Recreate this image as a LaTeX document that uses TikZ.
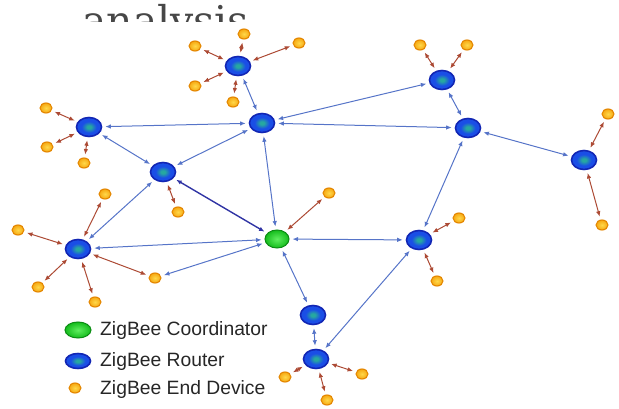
\documentclass[tikz,border=0pt]{standalone}
\usepackage{fontspec}
\setmainfont{Liberation Sans}
\newfontfamily\headfont{DejaVu Serif}
\usetikzlibrary{shapes.geometric,arrows.meta}

\definecolor{linkblue}{HTML}{5674C8}
\definecolor{linknavy}{HTML}{3034A4}
\definecolor{linkred}{HTML}{AC4A34}
\definecolor{rtedge}{HTML}{1226B4}
\definecolor{rtouter}{HTML}{1A4EE6}
\definecolor{rtinner}{HTML}{26A8A0}
\definecolor{coedge}{HTML}{0C8C14}
\definecolor{coouter}{HTML}{14BC1C}
\definecolor{coinner}{HTML}{60EE60}
\definecolor{ededge}{HTML}{E48600}
\definecolor{edouter}{HTML}{F6A812}
\definecolor{edinner}{HTML}{FFD84A}
\definecolor{legendtext}{HTML}{262626}

% blue router disc with a small teal core
\pgfdeclareradialshading{routerball}{\pgfpoint{0bp}{0bp}}{%
  color(0bp)=(rtinner); color(4bp)=(rtinner); color(15bp)=(rtouter);
  color(50bp)=(rtouter)}

\tikzset{
  router/.style={ellipse, minimum width=25pt, minimum height=19pt, inner sep=0pt,
    draw=rtedge, line width=1.6pt, shading=routerball},
  coord/.style={ellipse, minimum width=24pt, minimum height=18pt, inner sep=0pt,
    draw=coedge, line width=1pt, inner color=coinner, outer color=coouter},
  enddev/.style={ellipse, minimum width=12pt, minimum height=10pt, inner sep=0pt,
    draw=ededge, line width=1.1pt, inner color=edinner, outer color=edouter},
  tips/.style={{Latex[length=5.5pt,width=4.5pt]}-{Latex[length=5.5pt,width=4.5pt]},
    shorten <=3pt, shorten >=3pt},
  mesh/.style={tips, draw=linkblue, line width=1pt},
  meshdark/.style={tips, draw=linknavy, line width=1.4pt},
  leaf/.style={tips, draw=linkred, line width=1pt},
  legend/.style={anchor=west, inner sep=0pt, text=legendtext,
    font=\fontsize{19.3}{21}\selectfont}
}

\begin{document}
\begin{tikzpicture}[x=1pt,y=-1pt]
\useasboundingbox (0,0) rectangle (619,409);

% heading word, partly hidden behind the figure
\begin{scope}
  \clip (0,0) rectangle (619,22);
  \node[anchor=base west, inner sep=0pt, text=black!72,
        font=\headfont\fontsize{41}{41}\selectfont] (head) at (82,36) {analysis};
\end{scope}

% coordinator and routers
\node[coord]  (c)   at (277,239) {};
\node[router] (r1)  at (238,66)  {};
\node[router] (r2)  at (89,127)  {};
\node[router] (r3)  at (262,123) {};
\node[router] (r4)  at (163,172) {};
\node[router] (r5)  at (442,80)  {};
\node[router] (r6)  at (468,128) {};
\node[router] (r7)  at (584,160) {};
\node[router] (r8)  at (78,249)  {};
\node[router] (r9)  at (419,240) {};
\node[router] (r10) at (313,315) {};
\node[router] (r11) at (316,359) {};

% end devices
\node[enddev] (e1a) at (244,34)  {};
\node[enddev] (e1b) at (195,46)  {};
\node[enddev] (e1c) at (299,43)  {};
\node[enddev] (e1d) at (195,86)  {};
\node[enddev] (e1e) at (233,102) {};
\node[enddev] (e2a) at (46,108)  {};
\node[enddev] (e2b) at (47,147)  {};
\node[enddev] (e2c) at (84,163)  {};
\node[enddev] (e4a) at (178,212) {};
\node[enddev] (e5a) at (420,45)  {};
\node[enddev] (e5b) at (467,45)  {};
\node[enddev] (e7a) at (608,114) {};
\node[enddev] (e7b) at (602,225) {};
\node[enddev] (eca) at (329,193) {};
\node[enddev] (e8a) at (18,230)  {};
\node[enddev] (e8b) at (105,194) {};
\node[enddev] (e8c) at (38,287)  {};
\node[enddev] (e8d) at (95,302)  {};
\node[enddev] (e8e) at (155,278) {};
\node[enddev] (e9a) at (459,218) {};
\node[enddev] (e9b) at (437,281) {};
\node[enddev] (e11a) at (285,377) {};
\node[enddev] (e11b) at (362,374) {};
\node[enddev] (e11c) at (327,400) {};

% router mesh links
\draw[mesh] (r1) -- (r3);
\draw[mesh] (r2) -- (r3);
\draw[mesh] (r2) -- (r4);
\draw[mesh] (r3) -- (r4);
\draw[mesh] (r3) -- (r5);
\draw[mesh] (r3) -- (r6);
\draw[mesh] (r3) -- (c);
\draw[mesh] (r5) -- (r6);
\draw[mesh] (r6) -- (r7);
\draw[mesh] (r6) -- (r9);
\draw[mesh] (r4) -- (r8);
\draw[meshdark] (r4) -- (c);
\draw[mesh] (r8) -- (c);
\draw[mesh] (c) -- (e8e);
\draw[mesh] (c) -- (r9);
\draw[mesh] (c) -- (r10);
\draw[mesh] (r9) -- (r11);
\draw[mesh] (r10) -- (r11);

% end device links
\foreach \e in {e1a,e1b,e1c,e1d,e1e} \draw[leaf] (\e) -- (r1);
\foreach \e in {e2a,e2b,e2c} \draw[leaf] (\e) -- (r2);
\draw[leaf] (e4a) -- (r4);
\foreach \e in {e5a,e5b} \draw[leaf] (\e) -- (r5);
\foreach \e in {e7a,e7b} \draw[leaf] (\e) -- (r7);
\draw[leaf] (eca) -- (c);
\foreach \e in {e8a,e8b,e8c,e8d,e8e} \draw[leaf] (\e) -- (r8);
\foreach \e in {e9a,e9b} \draw[leaf] (\e) -- (r9);
\foreach \e in {e11a,e11b,e11c} \draw[leaf] (\e) -- (r11);

% legend
\node[coord, minimum width=26pt, minimum height=16pt]  (lc) at (78,330) {};
\node[router, minimum width=25pt, minimum height=15pt] (lr) at (78,361) {};
\node[enddev] (le) at (75,388) {};
\node[legend] (lct) at (100,331) {ZigBee Coordinator};
\node[legend] (lrt) at (100,362) {ZigBee Router};
\node[legend] (let) at (100,390) {ZigBee End Device};
\end{tikzpicture}
\end{document}
